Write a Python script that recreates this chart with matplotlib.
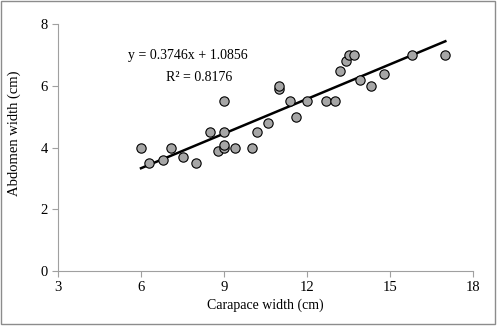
import numpy as np
import matplotlib
matplotlib.use("Agg")
import matplotlib.pyplot as plt
from matplotlib.patches import Rectangle

carapace = [6.0, 6.3, 6.8, 7.1, 7.5, 8.0, 8.5, 8.8, 9.0, 9.0, 9.0, 9.0, 9.4,
            10.0, 10.2, 10.6, 11.0, 11.0, 11.4, 11.6, 12.0, 12.7, 13.0, 13.2,
            13.4, 13.5, 13.7, 13.9, 14.3, 14.8, 15.8, 17.0]
abdomen = [4.0, 3.5, 3.6, 4.0, 3.7, 3.5, 4.5, 3.9, 4.0, 4.1, 4.5, 5.5, 4.0,
           4.0, 4.5, 4.8, 5.9, 6.0, 5.5, 5.0, 5.5, 5.5, 5.5, 6.5,
           6.8, 7.0, 7.0, 6.2, 6.0, 6.4, 7.0, 7.0]
slope, intercept = 0.3746, 1.0856
r2 = 0.8176

plt.rcParams["font.family"] = ["Liberation Serif", "DejaVu Serif"]

fig = plt.figure(figsize=(5, 3.3), dpi=100)
ax = fig.add_axes([0.116, 0.179, 0.830, 0.747])

fig.patches.append(Rectangle((0.002, 0.018), 0.988, 0.979, transform=fig.transFigure,
                             fill=False, edgecolor="#8c8c8c", linewidth=1))

ax.scatter(carapace, abdomen, s=45, color="#a6a6a6", edgecolor="black",
           linewidth=0.8, zorder=3)

xs = np.array([min(carapace), max(carapace)])
ax.plot(xs, slope * xs + intercept, color="black", linewidth=1.8, zorder=2)

ax.set_xlim(3, 18)
ax.set_ylim(0, 8)
ax.set_xticks(range(3, 19, 3))
ax.set_yticks(range(0, 9, 2))

for side in ["top", "right"]:
    ax.spines[side].set_visible(False)
for side in ["left", "bottom"]:
    ax.spines[side].set_color("#a0a0a0")
ax.tick_params(colors="#a0a0a0", labelcolor="black", labelsize=10.5, length=4,
               direction="out")

ax.set_xlabel("Carapace width (cm)", fontsize=10, labelpad=3)
ax.set_ylabel("Abdomen width (cm)", fontsize=10.5)
ax.yaxis.set_label_coords(-0.088, 0.56)

ax.text(0.312, 0.873, f"y = {slope:.4f}x + {intercept:.4f}", transform=ax.transAxes,
        ha="center", va="center", fontsize=10)
ax.text(0.340, 0.785, f"R² = {r2:.4f}", transform=ax.transAxes,
        ha="center", va="center", fontsize=10)

fig.savefig("out.png", dpi=100)
